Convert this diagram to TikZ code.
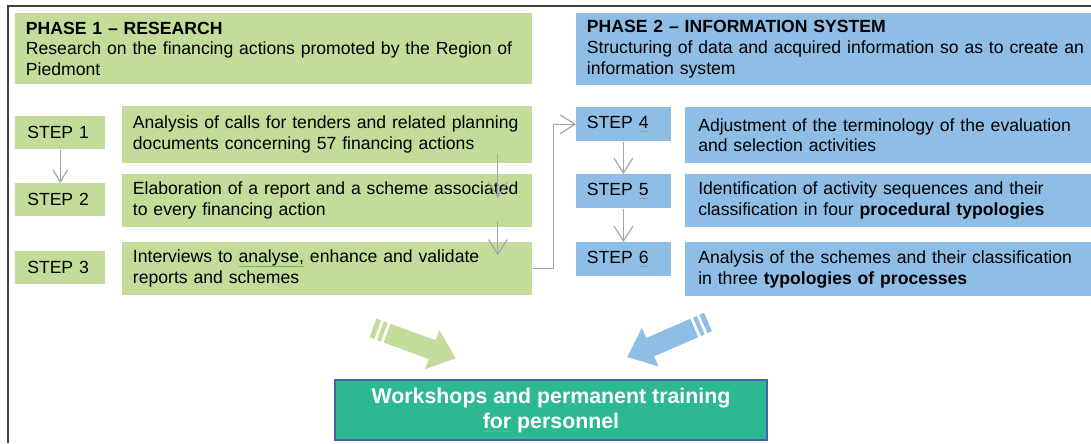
\documentclass[tikz,border=0pt]{standalone}
\usepackage{fontspec}
\setmainfont{Liberation Sans}
\usetikzlibrary{arrows.meta}

\definecolor{resgreen}{HTML}{C3DC9A}
\definecolor{infblue}{HTML}{8EBEE6}
\definecolor{wsteal}{HTML}{2DB894}
\definecolor{wsedge}{HTML}{4A60AE}
\definecolor{linkgray}{HTML}{A2A6AC}
\definecolor{framegray}{HTML}{404040}
\definecolor{spellgreen}{HTML}{6DBA5A}

\newcommand{\spellmark}[1]{\begingroup\setbox0\hbox{#1}\rlap{\color{spellgreen}\rule[-3pt]{\wd0}{0.7pt}}\box0\endgroup}

\tikzset{
  box/.style={anchor=north west, inner xsep=8pt, inner ysep=0pt, align=left,
    font=\fontsize{13.2}{15.5}\selectfont},
  conn/.style={draw=linkgray, line width=0.9pt, -{Straight Barb[length=9pt,width=11pt]}},
  bigconn/.style={conn, -{Straight Barb[length=11pt,width=14pt]}},
  fatarrow/.pic={
    \fill (0,-10) -- (5,-10) -- (5,10) -- (0,10) -- cycle;
    \fill (8,-10) -- (12,-10) -- (12,10) -- (8,10) -- cycle;
    \fill (15,-10) -- (63,-10) -- (63,-21) -- (88,0) -- (63,21) -- (63,10) -- (15,10) -- cycle;
  }
}

\begin{document}
\begin{tikzpicture}[x=0.75pt, y=-0.75pt]
\useasboundingbox (0,0) rectangle (1091,443);
\draw[framegray, line width=1.5pt] (8,443) -- (8,6) -- (1091,6);

% phase 1
\node[box, fill=resgreen, text width=371.75pt, minimum height=53.25pt] (ph1) at (15,13)
  {\textbf{PHASE 1 – RESEARCH}\\Research on the financing actions promoted by the Region of\\Piedmont};
\node[box, fill=resgreen, inner xsep=9pt, text width=49.5pt, minimum height=24.75pt] (s1) at (15,116) {STEP 1};
\node[box, fill=resgreen, inner xsep=9pt, text width=49.5pt, minimum height=24.75pt] (s2) at (15,183) {STEP 2};
\node[box, fill=resgreen, inner xsep=9pt, text width=49.5pt, minimum height=24.75pt] (s3) at (15,251) {STEP 3};
\node[box, fill=resgreen, text width=291.5pt, minimum height=42.75pt] (d1) at (122,106)
  {Analysis of calls for tenders and related planning\\documents concerning 57 financing actions};
\node[box, fill=resgreen, text width=291.5pt, minimum height=39.75pt] (d2) at (122,174)
  {Elaboration of a report and a scheme associated\\to every financing action};
\node[box, fill=resgreen, text width=291.5pt, minimum height=39.75pt] (d3) at (122,242)
  {Interviews to \spellmark{analyse,} enhance and validate\\reports and schemes};

% phase 2 (runs past the right edge)
\node[box, fill=infblue, text width=385pt, minimum height=54pt] (ph2) at (576,13)
  {\textbf{PHASE 2 – INFORMATION SYSTEM}\\Structuring of data and acquired information so as to create an\\information system};
\node[box, fill=infblue, text width=54.75pt, minimum height=25.5pt] (s4) at (576,107) {STEP \spellmark{4}};
\node[box, fill=infblue, text width=54.75pt, minimum height=25.5pt] (s5) at (576,174) {STEP \spellmark{5}};
\node[box, fill=infblue, text width=54.75pt, minimum height=25.5pt] (s6) at (576,242) {STEP \spellmark{6}};
\node[box, fill=infblue, inner xsep=9.75pt, text width=295pt, minimum height=42pt] (d4) at (685,107)
  {Adjustment of the terminology of the evaluation\\and selection activities};
\node[box, fill=infblue, inner xsep=9.75pt, text width=295pt, minimum height=39.75pt] (d5) at (685,174)
  {Identification of activity sequences and their\\classification in four \textbf{procedural typologies}};
\node[box, fill=infblue, inner xsep=9.75pt, text width=295pt, minimum height=40.5pt] (d6) at (685,242)
  {Analysis of the schemes and their classification\\in three \textbf{typologies of processes}};

% links
\draw[conn] (s1.south) -- (s2.north);
\draw[bigconn] ([xshift=-26pt,yshift=7.5pt]d1.south east) -- ([xshift=-26pt,yshift=-18pt]d2.north east);
\draw[bigconn] ([xshift=-26pt,yshift=5pt]d2.south east) -- ([xshift=-26pt,yshift=-10pt]d3.north east);
\draw[bigconn] (d3.east) -- ++(21,0) |- (s4.west);
\draw[bigconn] (s4.south) -- (s5.north);
\draw[bigconn] (s5.south) -- (s6.north);

% outcome
\pic[fill=resgreen, rotate=-20.1] at (373,328) {fatarrow};
\pic[fill=infblue, rotate=-156.5] at (708,322) {fatarrow};
\node[anchor=north west, draw=wsedge, line width=1.5pt, fill=wsteal, minimum width=324pt,
  minimum height=45pt, align=center, text=white, font=\bfseries\fontsize{16}{18.75}\selectfont]
  (ws) at (334,379) {Workshops and permanent training\\\spellmark{for} personnel};
\end{tikzpicture}
\end{document}
